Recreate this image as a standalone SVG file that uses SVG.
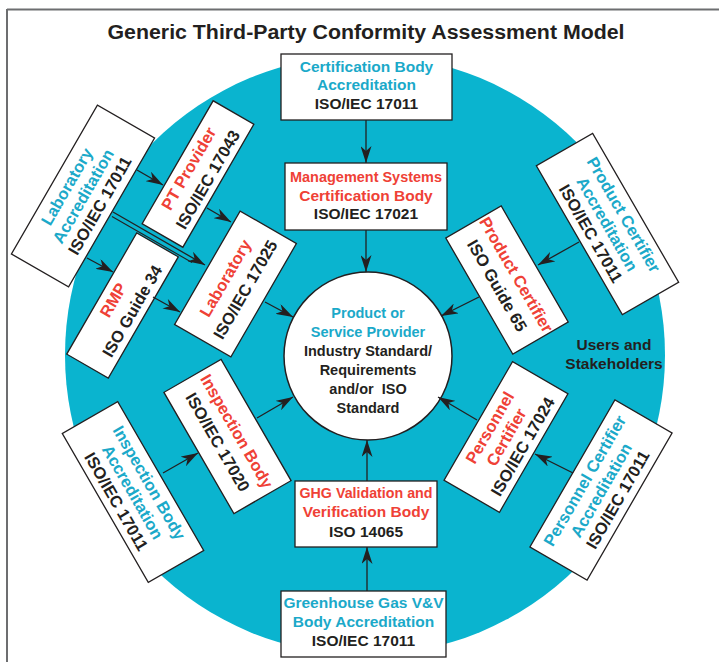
<svg xmlns="http://www.w3.org/2000/svg" width="719" height="662" viewBox="0 0 719 662">
<defs>
<marker id="arr" viewBox="0 0 17 11" markerWidth="17" markerHeight="11" refX="17" refY="5.5" orient="auto" markerUnits="userSpaceOnUse">
<path d="M0,0 L17,5.5 L0,11 L5,5.5 Z" fill="#231f20"/>
</marker>
<style>
.box{fill:#fff;stroke:#231f20;stroke-width:1.3}
.t{font-family:"Liberation Sans",Arial,Helvetica,sans-serif;font-weight:bold;text-anchor:middle}
.u{font-size:15.5px}
.rt{font-size:16.5px}
.ci{font-size:14.5px}
.c{fill:#1ba9c9}
.r{fill:#ef4136}
.k{fill:#231f20}
.conn line{stroke:#231f20;stroke-width:1.3;marker-end:url(#arr)}
.conn line.plain{marker-end:none;stroke-width:1.1}
</style>
</defs>
<rect x="0" y="0" width="719" height="662" fill="#fff"/>
<g id="frame">
<line x1="7" y1="9.5" x2="719" y2="9.5" stroke="#6d6e70" stroke-width="1.8"/>
<line x1="7" y1="9" x2="7" y2="662" stroke="#6d6e70" stroke-width="2"/>
</g>
<text id="title" class="t k" x="366" y="39" font-size="20" textLength="517" lengthAdjust="spacingAndGlyphs">Generic Third-Party Conformity Assessment Model</text>
<circle id="disc" cx="365" cy="355" r="300" fill="#0ab4cf"/>
<g id="users">
<text class="t k" x="614" y="350" font-size="15.5">Users and</text>
<text class="t k" x="614" y="369" font-size="15.5">Stakeholders</text>
</g>
<g id="provider">
<circle cx="368" cy="356" r="84" fill="#fff" stroke="#231f20" stroke-width="1.5"/>
<text class="t ci c" x="368" y="318">Product or</text>
<text class="t ci c" x="368" y="337">Service Provider</text>
<text class="t ci k" x="368" y="356">Industry Standard/</text>
<text class="t ci k" x="368" y="375">Requirements</text>
<text class="t ci k" x="368" y="394" xml:space="preserve">and/or  ISO</text>
<text class="t ci k" x="368" y="413">Standard</text>
</g>
<g id="cert-body-accreditation">
<rect class="box" x="281" y="54" width="171" height="66"/>
<text class="t u c" x="366.5" y="72">Certification Body</text>
<text class="t u c" x="366.5" y="90">Accreditation</text>
<text class="t u k" x="366.5" y="109">ISO/IEC 17011</text>
</g>
<g id="mgmt-systems">
<rect class="box" x="285" y="163" width="162" height="67"/>
<text class="t u r" x="366" y="182" textLength="152" lengthAdjust="spacingAndGlyphs">Management Systems</text>
<text class="t u r" x="366" y="201">Certification Body</text>
<text class="t u k" x="366" y="219">ISO/IEC 17021</text>
</g>
<g id="ghg-body">
<rect class="box" x="295" y="481" width="142" height="66"/>
<text class="t u r" x="366" y="498" textLength="133" lengthAdjust="spacingAndGlyphs">GHG Validation and</text>
<text class="t u r" x="366" y="517">Verification Body</text>
<text class="t u k" x="366" y="537">ISO 14065</text>
</g>
<g id="ghg-accreditation">
<rect class="box" x="281" y="591" width="165" height="66"/>
<text class="t u c" x="363.5" y="608">Greenhouse Gas V&amp;V</text>
<text class="t u c" x="363.5" y="627">Body Accreditation</text>
<text class="t u k" x="363.5" y="646">ISO/IEC 17011</text>
</g>
<g id="lab-accreditation" transform="translate(83,196) rotate(-60)">
<rect class="box" x="-86" y="-33" width="172" height="66"/>
<text class="t rt c" y="-13">Laboratory</text>
<text class="t rt c" y="6">Accreditation</text>
<text class="t rt k" y="25">ISO/IEC 17011</text>
</g>
<g id="pt-provider" transform="translate(198,174) rotate(-60)">
<rect class="box" x="-71" y="-23.5" width="142" height="47"/>
<text class="t rt r" y="-5">PT Provider</text>
<text class="t rt k" y="17">ISO/IEC 17043</text>
</g>
<g id="laboratory" transform="translate(235.5,284) rotate(-60)">
<rect class="box" x="-65.5" y="-32.5" width="131" height="65"/>
<text class="t rt r" y="-6">Laboratory</text>
<text class="t rt k" y="17">ISO/IEC 17025</text>
</g>
<g id="rmp" transform="translate(122.5,305.5) rotate(-60)">
<rect class="box" x="-70" y="-24" width="140" height="48"/>
<text class="t rt r" y="-5">RMP</text>
<text class="t rt k" y="17">ISO Guide 34</text>
</g>
<g id="product-certifier-accreditation" transform="translate(607.5,224) rotate(60)">
<rect class="box" x="-86" y="-32.5" width="172" height="65"/>
<text class="t rt c" y="-13">Product Certifier</text>
<text class="t rt c" y="6">Accreditation</text>
<text class="t rt k" y="25">ISO/IEC 17011</text>
</g>
<g id="product-certifier" transform="translate(507,280) rotate(60)">
<rect class="box" x="-67" y="-32" width="134" height="64"/>
<text class="t rt r" y="-5">Product Certifier</text>
<text class="t rt k" y="17">ISO Guide 65</text>
</g>
<g id="personnel-certifier" transform="translate(506,437) rotate(-60)">
<rect class="box" x="-68.5" y="-32" width="137" height="64"/>
<text class="t rt r" y="-13">Personnel</text>
<text class="t rt r" y="6">Certifier</text>
<text class="t rt k" y="25">ISO/IEC 17024</text>
</g>
<g id="personnel-certifier-accreditation" transform="translate(601,490) rotate(-60)">
<rect class="box" x="-85" y="-33" width="170" height="66"/>
<text class="t rt c" y="-13">Personnel Certifier</text>
<text class="t rt c" y="6">Accreditation</text>
<text class="t rt k" y="25">ISO/IEC 17011</text>
</g>
<g id="inspection-body" transform="translate(227.5,436.5) rotate(60)">
<rect class="box" x="-70" y="-33" width="140" height="66"/>
<text class="t rt r" y="-5">Inspection Body</text>
<text class="t rt k" y="17">ISO/IEC 17020</text>
</g>
<g id="inspection-body-accreditation" transform="translate(133,492) rotate(60)">
<rect class="box" x="-86" y="-32" width="172" height="64"/>
<text class="t rt c" y="-13">Inspection Body</text>
<text class="t rt c" y="6">Accreditation</text>
<text class="t rt k" y="25">ISO/IEC 17011</text>
</g>
<g id="connectors" class="conn">
<line x1="366" y1="120" x2="366" y2="163"/>
<line x1="366" y1="230" x2="366" y2="272"/>
<line x1="367" y1="481" x2="367" y2="440"/>
<line x1="367" y1="591" x2="367" y2="547"/>
<line x1="137" y1="170" x2="163" y2="185"/>
<line x1="207" y1="208" x2="231" y2="222"/>
<line x1="113" y1="212" x2="205" y2="265"/>
<line class="plain" x1="112" y1="216.5" x2="192" y2="262.5"/>
<line x1="87" y1="258" x2="113" y2="272"/>
<line x1="153" y1="297" x2="180" y2="312"/>
<line x1="265" y1="302" x2="293" y2="317"/>
<line x1="579" y1="242" x2="538" y2="265"/>
<line x1="479" y1="297" x2="441" y2="316"/>
<line x1="573" y1="473" x2="535" y2="454"/>
<line x1="477" y1="420" x2="438" y2="397"/>
<line x1="163" y1="473" x2="198" y2="453"/>
<line x1="257" y1="418" x2="293" y2="397"/>
</g>
</svg>
